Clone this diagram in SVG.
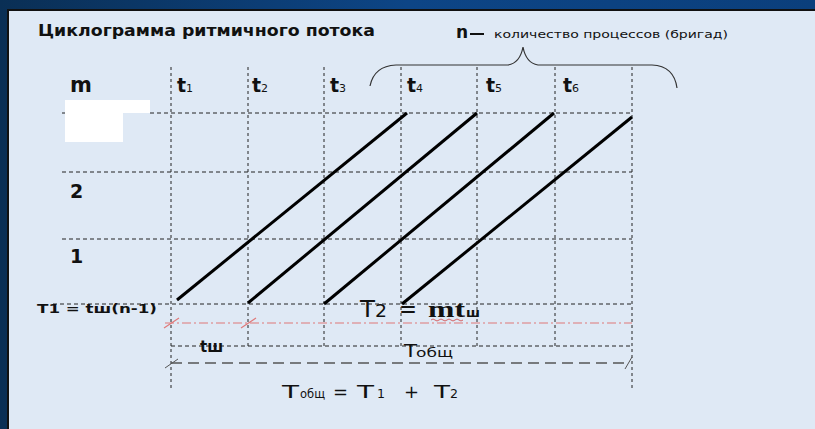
<svg xmlns="http://www.w3.org/2000/svg" width="815" height="429" viewBox="0 0 815 429">
<defs>
<linearGradient id="bg" x1="0" y1="0" x2="1" y2="0">
<stop offset="0" stop-color="#0a2f55"/>
<stop offset="0.5" stop-color="#0d4586"/>
<stop offset="1" stop-color="#0b3f7c"/>
</linearGradient>
<style>
.grid{stroke:#222;stroke-width:1;stroke-dasharray:4 3;fill:none}
.vgrid{stroke:#222;stroke-width:1;stroke-dasharray:3 3;fill:none}
.diag{stroke:#000;stroke-width:3;fill:none;stroke-linecap:butt}
.red{stroke:#e07878;stroke-width:1.2;stroke-dasharray:9 3 2 3;fill:none}
.long{stroke:#555;stroke-width:1.3;stroke-dasharray:11 6;fill:none}
.tick{stroke:#555;stroke-width:1;fill:none}
.rtick{stroke:#e07878;stroke-width:1.2;fill:none}
.s{font-family:"DejaVu Sans","Liberation Sans",sans-serif;fill:#111}
.b{font-weight:bold}
.a{font-family:"DejaVu Sans","Liberation Sans",sans-serif;fill:#111}
</style>
</defs>
<rect x="0" y="0" width="815" height="429" fill="url(#bg)"/>
<rect x="7" y="9" width="808" height="420" fill="#111"/>
<rect x="9" y="11" width="806" height="418" fill="#dfe9f5"/>

<g id="title">
<text class="s b" x="38" y="36" font-size="15" textLength="337" lengthAdjust="spacingAndGlyphs">Циклограмма ритмичного потока</text>
</g>

<g id="n-label">
<text class="s b" x="456" y="38" font-size="17">n</text>
<line x1="470" y1="34" x2="484" y2="34" stroke="#111" stroke-width="2"/>
<text class="s" x="494" y="38" font-size="10" textLength="234" lengthAdjust="spacingAndGlyphs">количество процессов (бригад)</text>
<path d="M370,86 Q374,66 396,65 L508,65 Q520,63 523,47 Q526,63 538,65 L652,65 Q674,66 677,88" fill="none" stroke="#333" stroke-width="1.2"/>
</g>

<g id="mask">
<polygon points="65,100 150,100 150,113 123,113 123,142 65,142" fill="#ffffff"/>
</g>

<g id="grid">
<line class="grid" x1="62" y1="113" x2="65" y2="113"/>
<line class="grid" x1="150" y1="113" x2="632" y2="113"/>
<line class="grid" x1="62" y1="172" x2="632" y2="172"/>
<line class="grid" x1="62" y1="239" x2="632" y2="239"/>
<line class="grid" x1="53" y1="304" x2="632" y2="304"/>
<line class="grid" x1="171" y1="346" x2="632" y2="346"/>
<line class="vgrid" x1="171" y1="67" x2="171" y2="391"/>
<line class="vgrid" x1="248" y1="67" x2="248" y2="346"/>
<line class="vgrid" x1="324" y1="67" x2="324" y2="346"/>
<line class="vgrid" x1="401" y1="67" x2="401" y2="346"/>
<line class="vgrid" x1="477" y1="67" x2="477" y2="346"/>
<line class="vgrid" x1="555" y1="67" x2="555" y2="346"/>
<line class="vgrid" x1="632" y1="67" x2="632" y2="391"/>
</g>

<g id="connectors">
<line class="diag" x1="177" y1="300" x2="407" y2="113"/>
<line class="diag" x1="248" y1="303" x2="477" y2="113"/>
<line class="diag" x1="324" y1="304" x2="554" y2="113"/>
<line class="diag" x1="402" y1="304" x2="632" y2="117"/>
<line class="red" x1="165" y1="323" x2="632" y2="323"/>
<line class="rtick" x1="164" y1="328" x2="179" y2="318"/>
<line class="rtick" x1="241" y1="328" x2="256" y2="318"/>
<line class="long" x1="171" y1="363" x2="630" y2="363"/>
<line class="tick" x1="165" y1="368" x2="178" y2="359"/>
<line class="tick" x1="625" y1="369" x2="632" y2="357"/>
</g>

<g id="col-labels">
<text class="s" x="177" y="92"><tspan font-size="19" font-weight="bold">t</tspan><tspan font-size="11">1</tspan></text>
<text class="s" x="252" y="92"><tspan font-size="19" font-weight="bold">t</tspan><tspan font-size="11">2</tspan></text>
<text class="s" x="330" y="92"><tspan font-size="19" font-weight="bold">t</tspan><tspan font-size="11">3</tspan></text>
<text class="s" x="407" y="92"><tspan font-size="19" font-weight="bold">t</tspan><tspan font-size="11">4</tspan></text>
<text class="s" x="486" y="92"><tspan font-size="19" font-weight="bold">t</tspan><tspan font-size="11">5</tspan></text>
<text class="s" x="563" y="92"><tspan font-size="19" font-weight="bold">t</tspan><tspan font-size="11">6</tspan></text>
</g>

<g id="row-labels">
<text class="s b" x="70" y="92" font-size="21">m</text>
<text class="s" x="70" y="198" font-size="19" font-weight="600">2</text>
<text class="s b" x="70" y="263" font-size="19">1</text>
</g>

<g id="formula-t1">
<text class="s" x="37" y="313" font-size="13" font-weight="600" textLength="120" lengthAdjust="spacingAndGlyphs">T1 = tш(n-1)</text>
</g>

<g id="formula-t2">
<text class="a" x="360" y="317" font-size="23" textLength="15" lengthAdjust="spacingAndGlyphs">T</text>
<text class="a" x="375" y="317" font-size="17" textLength="12" lengthAdjust="spacingAndGlyphs">2</text>
<text class="a" x="399" y="317" font-size="23" textLength="18" lengthAdjust="spacingAndGlyphs">=</text>
<text x="428" y="317" font-size="24" font-family="Liberation Serif,serif" font-weight="bold" fill="#111" textLength="37" lengthAdjust="spacingAndGlyphs">mt</text>
<text class="a" x="466" y="317" font-size="13" font-weight="bold" textLength="14" lengthAdjust="spacingAndGlyphs">ш</text>
<path d="M431,320 q2,-2 4,0 t4,0 t4,0 t4,0 t4,0 t4,0 t4,0 t4,0" fill="none" stroke="#d04040" stroke-width="0.8"/>
</g>

<g id="label-tsh">
<text class="s b" x="200" y="352" font-size="15">tш</text>
</g>

<g id="label-tobsh">
<text class="a" x="404" y="357" font-size="17" textLength="13" lengthAdjust="spacingAndGlyphs">T</text>
<text class="a" x="416" y="357" font-size="13" textLength="37" lengthAdjust="spacingAndGlyphs">общ</text>
</g>

<g id="formula-total">
<text class="a" x="282" y="398" font-size="18" textLength="17" lengthAdjust="spacingAndGlyphs">T</text>
<text class="a" x="300" y="398" font-size="12" textLength="25" lengthAdjust="spacingAndGlyphs">общ</text>
<text class="a" x="333" y="398" font-size="18" textLength="15" lengthAdjust="spacingAndGlyphs">=</text>
<text class="a" x="357" y="398" font-size="18" textLength="17" lengthAdjust="spacingAndGlyphs">T</text>
<text class="a" x="377" y="398" font-size="12" textLength="8" lengthAdjust="spacingAndGlyphs">1</text>
<text class="a" x="404" y="398" font-size="18" textLength="15" lengthAdjust="spacingAndGlyphs">+</text>
<text class="a" x="434" y="398" font-size="18" textLength="16" lengthAdjust="spacingAndGlyphs">T</text>
<text class="a" x="450" y="398" font-size="12" textLength="8" lengthAdjust="spacingAndGlyphs">2</text>
</g>
</svg>
